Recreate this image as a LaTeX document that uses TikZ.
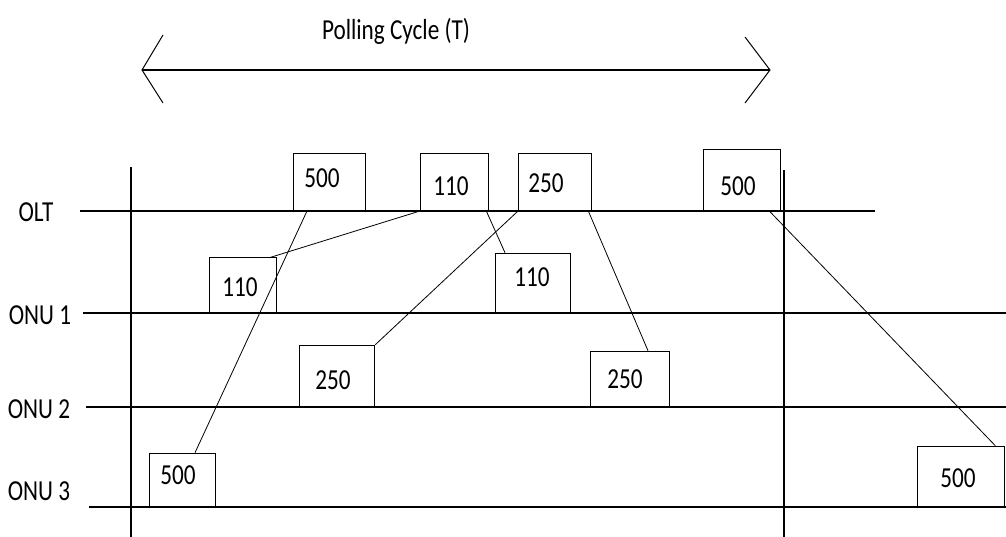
\documentclass[tikz,border=0pt]{standalone}
\usepackage{fontspec}
\setmainfont{Carlito}[FakeStretch=0.8]
\usetikzlibrary{calc}
\begin{document}
\begin{tikzpicture}[x=1pt,y=-1pt,
  every node/.style={font=\fontsize{29}{31}\selectfont, inner sep=0pt},
  axisline/.style={line width=1.6pt},
  slot/.style={draw, line width=1.3pt, anchor=south west, inner sep=0pt, fill=white},
  msg/.style={line width=0.8pt},
  tip/.style={line width=1pt}]
\useasboundingbox (0,0) rectangle (1006,537);

% polling cycle span
\coordinate (pl) at (142,70);
\coordinate (pr) at (770,70);
\draw[axisline] (pl) -- (pr);
\draw[tip] ($(pl)+(21,-35)$) -- (pl) -- ($(pl)+(21,33)$);
\draw[tip] ($(pr)+(-25,-33)$) -- (pr) -- ($(pr)+(-25,33)$);
\node (cycle) at (396,31) {Polling Cycle (T)};

% cycle boundaries
\coordinate (v1t) at (131,167);
\coordinate (v1b) at (131,537);
\coordinate (v2t) at (784,170);
\coordinate (v2b) at (784,537);
\draw[axisline] (v1t) -- (v1b);
\draw[axisline] (v2t) -- (v2b);

% time lines
\coordinate (olt0) at (80,211);   \coordinate (olt1) at (875,211);
\coordinate (on10) at (83,313);   \coordinate (on11) at (1006,313);
\coordinate (on20) at (86,407);   \coordinate (on21) at (1006,407);
\coordinate (on30) at (89,507);   \coordinate (on31) at (1006,507);
\draw[axisline] (olt0) -- (olt1);
\draw[axisline] (on10) -- (on11);
\draw[axisline] (on20) -- (on21);
\draw[axisline] (on30) -- (on31);

\node (lolt) at (36,212) {OLT};
\node (lonu1) at (40,315) {ONU 1};
\node (lonu2) at (39,409) {ONU 2};
\node (lonu3) at (39,491) {ONU 3};

% OLT slots
\node[slot, minimum width=72pt, minimum height=57pt] (o500) at (293,211) {};
\node[slot, minimum width=68pt, minimum height=57pt] (o110) at (420,211) {};
\node[slot, minimum width=73pt, minimum height=57pt] (o250) at (518,211) {};
\node[slot, minimum width=77pt, minimum height=61pt] (o500b) at (703,211) {};
% ONU 1 slots
\node[slot, minimum width=67pt, minimum height=55pt] (a110) at (209,313) {};
\node[slot, minimum width=75pt, minimum height=59pt] (a110b) at (495,313) {};
% ONU 2 slots
\node[slot, minimum width=75pt, minimum height=61pt] (b250) at (299,407) {};
\node[slot, minimum width=79pt, minimum height=55pt] (b250b) at (590,407) {};
% ONU 3 slots
\node[slot, minimum width=66pt, minimum height=53pt] (c500) at (149,507) {};
\node[slot, minimum width=87pt, minimum height=60pt] (c500b) at (917,507) {};

% slot sizes
\node (t1) at (322,178) {500};
\node (t2) at (451,186) {110};
\node (t3) at (546,183) {250};
\node (t4) at (738,186) {500};
\node (t5) at (240,287) {110};
\node (t6) at (532,277) {110};
\node (t7) at (333,380) {250};
\node (t8) at (625,379) {250};
\node (t9) at (178,475) {500};
\node (t10) at (958,478) {500};

% messages between OLT and ONUs
\draw[msg] ($(o500.south west)+(14,0)$) -- ($(c500.north west)+(46,0)$);
\draw[msg] (o110.south west) -- ($(a110.north east)+(-8,1)$);
\draw[msg] (o250.south west) -- (b250.north east);
\draw[msg] ($(o110.south east)+(-3,0)$) -- ($(a110b.north west)+(10,0)$);
\draw[msg] ($(o250.south east)+(-4,0)$) -- ($(b250b.north west)+(58,0)$);
\draw[msg] ($(o500b.south east)+(-12,0)$) -- ($(c500b.north east)+(-10,0)$);
\end{tikzpicture}
\end{document}
